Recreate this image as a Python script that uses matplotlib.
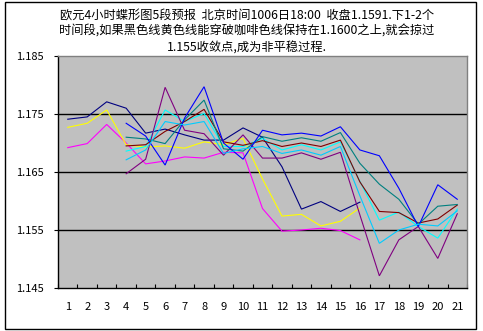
#!/usr/bin/env python3
# -*- coding: utf-8 -*-

from matplotlib import pyplot as plt
from matplotlib.patches import Rectangle
import numpy as np

plt.rcParams['font.family'] = ['Noto Sans CJK SC', 'DejaVu Sans']

nan = np.nan

periods = list(range(1, 22))
y_ticks = [1.145, 1.155, 1.165, 1.175, 1.185]
y_labels = ['1.145', '1.155', '1.165', '1.175', '1.185']

title_lines = [
    '欧元4小时蝶形图5段预报  北京时间1006日18:00  收盘1.1591.下1-2个',
    '时间段,如果黑色线黄色线能穿破咖啡色线保持在1.1600之上,就会掠过',
    '1.155收敛点,成为非平稳过程.',
]

# one list per line, 21 periods, nan where the line has no value
navy = [1.1741, 1.1745, 1.1771, 1.1760, 1.1717, 1.1724, 1.1714, 1.1705,
        1.1705, 1.1726, 1.1710, 1.1659, 1.1586, 1.1599, 1.1582, 1.1598,
        nan, nan, nan, nan, nan]
magenta = [1.1692, 1.1699, 1.1732, 1.1700, 1.1664, 1.1669, 1.1676, 1.1674,
           1.1684, 1.1683, 1.1587, 1.1548, 1.1550, 1.1553, 1.1549, 1.1533,
           nan, nan, nan, nan, nan]
yellow = [1.1727, 1.1734, 1.1757, 1.1697, 1.1693, 1.1695, 1.1691, 1.1702,
          1.1697, 1.1708, 1.1638, 1.1574, 1.1577, 1.1557, 1.1565, 1.1588,
          nan, nan, nan, nan, nan]
cyan = [nan, nan, nan, 1.1686, 1.1694, 1.1757, 1.1737, 1.1751,
        1.1694, 1.1694, 1.1708, 1.1688, 1.1697, 1.1688, 1.1702, 1.1634,
        1.1567, 1.1581, 1.1556, 1.1536, 1.1586]
purple = [nan, nan, nan, 1.1647, 1.1672, 1.1796, 1.1722, 1.1716,
          1.1679, 1.1714, 1.1674, 1.1674, 1.1683, 1.1672, 1.1684, 1.1576,
          1.1471, 1.1533, 1.1556, 1.1501, 1.1578]
maroon = [nan, nan, nan, 1.1695, 1.1697, 1.1720, 1.1737, 1.1758,
          1.1702, 1.1696, 1.1704, 1.1694, 1.1700, 1.1694, 1.1705, 1.1633,
          1.1582, 1.1580, 1.1562, 1.1569, 1.1593]
teal = [nan, nan, nan, 1.1710, 1.1707, 1.1699, 1.1740, 1.1774,
        1.1690, 1.1686, 1.1711, 1.1703, 1.1709, 1.1703, 1.1718, 1.1665,
        1.1629, 1.1603, 1.1560, 1.1591, 1.1594]
blue = [nan, nan, nan, 1.1734, 1.1712, 1.1662, 1.1743, 1.1797,
        1.1700, 1.1672, 1.1722, 1.1714, 1.1717, 1.1712, 1.1728, 1.1688,
        1.1678, 1.1622, 1.1556, 1.1628, 1.1603]
sky = [nan, nan, nan, 1.1671, 1.1688, 1.1737, 1.1731, 1.1737,
       1.1682, 1.1690, 1.1694, 1.1682, 1.1688, 1.1679, 1.1694, 1.1609,
       1.1527, 1.1550, 1.1560, 1.1557, 1.1583]

series = [
    (navy, '#000080'),
    (magenta, '#FF00FF'),
    (yellow, '#FFFF00'),
    (cyan, '#00FFFF'),
    (purple, '#800080'),
    (maroon, '#800000'),
    (teal, '#008080'),
    (blue, '#0000FF'),
    (sky, '#00CCFF'),
]


def build_figure():
    fig = plt.figure(figsize=(4.83, 3.31), dpi=100)
    fig.patch.set_facecolor('white')
    fig.patches.append(Rectangle((5 / 483, 2 / 331), 471 / 483, 327 / 331,
                                 transform=fig.transFigure, fill=False,
                                 edgecolor='black', linewidth=1.0))

    ax = fig.add_axes([58 / 483, 1 - 288 / 331, 409 / 483, 232 / 331])
    ax.set_facecolor('#C0C0C0')

    for values, color in series:
        ax.plot(periods, values, color=color, linewidth=0.8,
                solid_joinstyle='miter')

    ax.set_xlim(0.5, 21.5)
    ax.set_ylim(1.145, 1.185)

    for y in y_ticks[1:-1]:
        ax.axhline(y, color='black', linewidth=1.0, zorder=0.5)

    ax.set_yticks(y_ticks)
    ax.set_yticklabels(y_labels)
    ax.tick_params(axis='y', direction='out', length=3, width=0.8,
                   pad=7, labelsize=8)

    ax.set_xticks(periods)
    ax.set_xticklabels([str(p) for p in periods])
    ax.set_xticks(np.arange(0.5, 22, 1.0), minor=True)
    ax.tick_params(axis='x', which='major', length=0, pad=10, labelsize=8)
    ax.tick_params(axis='x', which='minor', direction='in', length=3,
                   width=0.8)

    for side in ('left', 'bottom'):
        ax.spines[side].set_color('black')
        ax.spines[side].set_linewidth(1.0)
    for side in ('top', 'right'):
        ax.spines[side].set_color('#808080')
        ax.spines[side].set_linewidth(1.0)

    for i, line in enumerate(title_lines):
        fig.text(247 / 483, 1 - (15 + i * 16.5) / 331, line,
                 ha='center', va='center', fontsize=8.8)
    return fig


if __name__ == '__main__':
    fig = build_figure()
    fig.savefig('out.png', dpi=100)
